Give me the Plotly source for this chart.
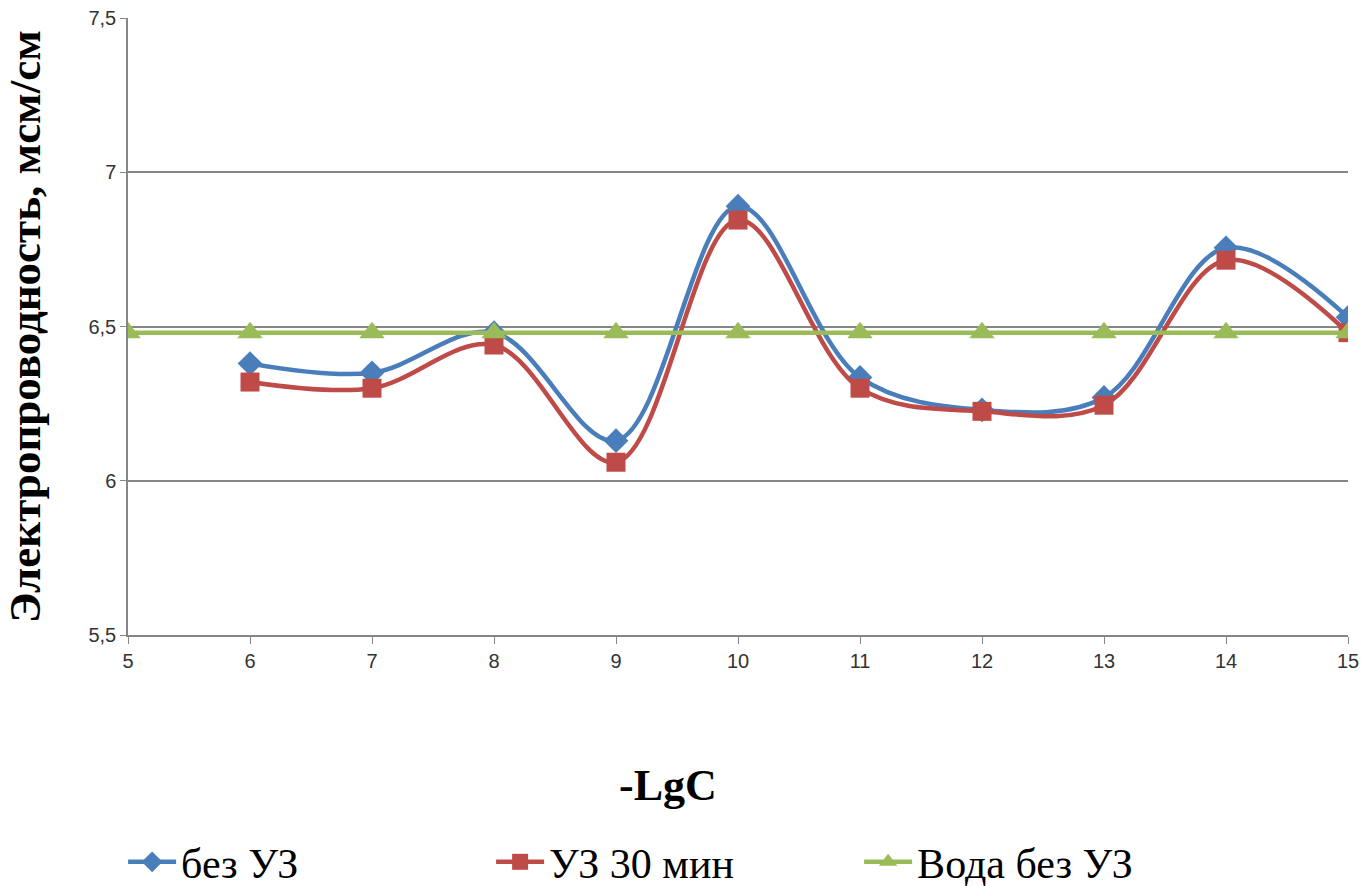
import plotly.graph_objects as go

# -LgC concentration steps
lgc = [5, 6, 7, 8, 9, 10, 11, 12, 13, 14, 15]

# Conductivity, мсм/см
bez_uz = [None, 6.38, 6.35, 6.48, 6.13, 6.89, 6.335, 6.23, 6.27, 6.755, 6.53]
uz_30 = [None, 6.32, 6.30, 6.44, 6.06, 6.845, 6.30, 6.225, 6.245, 6.715, 6.48]
voda = [6.48] * 11

series = [
    ("без УЗ", bez_uz, "#4A7EBB", "diamond", 19),
    ("УЗ 30 мин", uz_30, "#BE4B48", "square", 19),
    ("Вода без УЗ", voda, "#9BBB59", "triangle-up", 22),
]

fig = go.Figure()
for name, vals, color, sym, size in series:
    fig.add_trace(go.Scatter(
        x=lgc, y=vals, name=name, mode="lines+markers",
        line=dict(color=color, width=4.5, shape="spline", smoothing=1.0),
        marker=dict(symbol=sym, size=size, color=color),
        connectgaps=False,
    ))

axis_grey = "#868686"
plot_left, plot_right, plot_top, plot_bottom = 128, 1348, 18, 635
plot_w = plot_right - plot_left
plot_h = plot_bottom - plot_top

fig.update_layout(
    width=1372, height=886,
    margin=dict(l=plot_left, r=1372 - plot_right, t=plot_top, b=886 - plot_bottom,
                autoexpand=False),
    paper_bgcolor="white", plot_bgcolor="white",
    separators=", ",
    showlegend=True,
    legend=dict(
        orientation="h", x=-0.004, xanchor="left",
        y=(plot_bottom - 862) / plot_h, yanchor="middle",
        entrywidth=305, entrywidthmode="pixels", itemwidth=48,
        font=dict(family="Liberation Serif", size=42, color="black"),
        bgcolor="rgba(0,0,0,0)",
    ),
    xaxis=dict(
        range=[5, 15], tickmode="array", tickvals=lgc,
        showgrid=False, zeroline=False,
        showline=True, linecolor=axis_grey, linewidth=1.5,
        ticks="outside", ticklen=7, tickcolor=axis_grey,
        tickfont=dict(family="Liberation Sans", size=20, color="#333333"),
    ),
    yaxis=dict(
        range=[5.5, 7.5], tickmode="array", tickvals=[5.5, 6, 6.5, 7, 7.5],
        showgrid=True, gridcolor=axis_grey, gridwidth=1.5, zeroline=False,
        showline=True, linecolor=axis_grey, linewidth=1.5,
        ticks="outside", ticklen=6, tickcolor=axis_grey,
        tickfont=dict(family="Liberation Sans", size=20, color="#333333"),
        title=dict(text="<b>Электропроводность, мсм/см</b>", standoff=44,
                   font=dict(family="Liberation Serif", size=45, color="black")),
    ),
    annotations=[dict(
        text="<b>-LgC</b>", xref="paper", yref="paper",
        x=(668 - plot_left) / plot_w, y=(plot_bottom - 785) / plot_h,
        xanchor="center", yanchor="middle", showarrow=False,
        font=dict(family="Liberation Serif", size=44, color="black"),
    )],
)

fig.write_html("out.html")
